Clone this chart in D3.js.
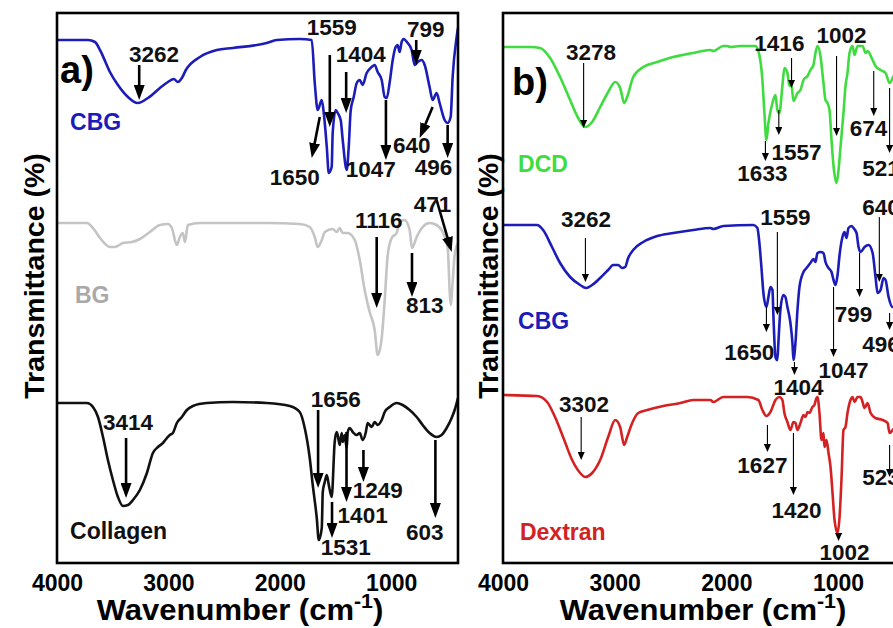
<!DOCTYPE html>
<html>
<head>
<meta charset="utf-8">
<script src="https://cdn.jsdelivr.net/npm/d3@7.9.0/dist/d3.min.js"></script>
<style>
  body { margin: 0; background: #fff; }
  text { font-family: "Liberation Sans", Arial, sans-serif; font-weight: bold; }
</style>
</head>
<body>
<div id="chart"></div>
<script>
// x ticks (cm-1)
const xTicks = [4000, 3000, 2000, 1000];

// spectra, [wavenumber, transmittance (offset, a.u.)]
const cbgA = [
  [4000,104.6],[3722,104.6],[3659,104.2],[3614,102.6],[3525,98.2],[3453,95.6],[3363,93.2],[3274,92.0],
  [3184,93.0],[3076,95.0],[3004,96.2],[2951,96.8],[2915,96.2],[2879,97.0],[2843,98.6],[2717,101.2],
  [2565,102.6],[2421,103.0],[2117,104.0],[2027,104.6],[1821,104.8],[1713,104.6],[1686,96.0],[1659,90.6],
  [1623,92.6],[1605,90.0],[1578,83.2],[1560,78.0],[1534,79.2],[1525,86.0],[1498,90.6],[1480,90.0],
  [1453,88.6],[1435,84.6],[1399,78.6],[1381,83.2],[1363,90.6],[1336,93.2],[1309,96.0],[1282,96.6],
  [1256,95.6],[1220,98.0],[1175,99.2],[1148,99.6],[1121,98.2],[1085,96.6],[1058,93.2],[1040,93.0],
  [1013,96.2],[986,100.6],[960,103.2],[942,103.6],[924,102.2],[906,104.2],[888,104.8],[852,104.0],
  [816,102.6],[789,99.6],[762,100.2],[726,100.6],[699,99.6],[655,95.2],[628,92.6],[592,94.0],
  [565,92.0],[520,88.6],[493,88.0],[466,89.2],[448,97.2],[412,105.2],[400,107.0]
];
const bgA = [
  [4000,68.0],[3731,68.0],[3677,67.0],[3614,65.0],[3525,63.2],[3480,63.2],[3408,64.0],[3327,64.2],
  [3256,64.8],[3166,66.2],[3076,67.6],[3004,67.8],[2969,67.0],[2924,63.6],[2897,65.2],[2870,66.0],
  [2852,64.2],[2825,67.6],[2717,68.0],[2421,68.0],[2117,68.0],[1821,67.8],[1731,67.2],[1686,65.2],
  [1659,63.2],[1623,64.6],[1596,66.2],[1525,66.8],[1489,66.2],[1462,67.0],[1435,66.0],[1390,66.0],
  [1327,64.6],[1282,60.6],[1238,54.6],[1193,50.2],[1148,46.6],[1121,41.6],[1085,45.0],[1058,52.6],
  [1031,61.6],[995,65.0],[951,66.0],[924,68.2],[879,68.6],[834,66.6],[813,63.0],[771,65.2],
  [717,67.2],[655,68.0],[592,67.6],[538,66.2],[493,63.2],[475,54.6],[466,51.6],[448,56.2],
  [430,61.6],[400,64.0]
];
const collagenA = [
  [4000,32.0],[3731,32.0],[3677,31.2],[3632,29.2],[3587,25.2],[3543,20.6],[3498,16.6],[3453,13.2],
  [3408,11.4],[3363,11.6],[3318,12.6],[3256,14.6],[3193,18.0],[3139,22.0],[3094,23.2],[3049,24.0],
  [3013,25.0],[2987,25.6],[2960,26.0],[2924,28.0],[2879,29.2],[2834,30.6],[2780,31.4],[2655,32.0],
  [2421,32.2],[2117,32.0],[1910,31.4],[1821,30.2],[1776,27.0],[1731,21.0],[1704,15.6],[1668,9.0],
  [1650,4.6],[1623,7.0],[1614,14.2],[1596,16.2],[1578,17.6],[1560,15.6],[1534,13.2],[1507,24.2],
  [1489,26.2],[1480,25.6],[1462,23.6],[1444,26.0],[1435,24.2],[1417,25.6],[1399,23.0],[1390,26.2],
  [1372,27.0],[1345,26.2],[1309,25.6],[1282,26.0],[1256,24.6],[1229,26.0],[1211,28.0],[1175,27.2],
  [1148,28.2],[1121,27.6],[1085,28.6],[1058,30.2],[1013,31.2],[951,32.0],[897,31.6],[834,30.6],
  [771,29.2],[717,27.6],[655,26.0],[592,25.2],[547,25.6],[502,27.0],[457,29.0],[430,30.6],[400,33.0]
];
const dcdB = [
  [4000,103.2],[3758,103.2],[3668,103.0],[3578,101.0],[3489,97.2],[3399,92.6],[3327,89.0],[3265,87.2],
  [3202,88.2],[3130,91.2],[3058,94.2],[2995,96.2],[2951,95.0],[2915,92.0],[2888,93.2],[2834,97.2],
  [2744,99.2],[2619,100.2],[2475,101.2],[2296,102.0],[2143,102.6],[2117,102.4],[2027,103.4],[1991,103.4],
  [1964,103.2],[1874,103.4],[1740,103.4],[1713,102.4],[1677,96.6],[1659,90.0],[1641,84.6],[1623,88.0],
  [1587,92.0],[1560,93.6],[1543,90.6],[1525,90.0],[1498,95.4],[1480,99.0],[1453,98.0],[1435,95.4],
  [1417,95.6],[1399,92.4],[1363,94.0],[1336,94.6],[1309,96.6],[1273,97.4],[1247,98.6],[1220,99.6],
  [1202,102.0],[1184,103.4],[1157,101.4],[1130,96.0],[1112,92.6],[1094,92.0],[1076,90.6],[1058,84.6],
  [1040,79.4],[1013,76.0],[995,78.6],[977,83.4],[951,90.0],[933,95.4],[915,98.0],[897,102.0],
  [870,103.4],[852,101.6],[825,103.4],[780,103.4],[753,102.0],[735,102.4],[690,100.6],[664,99.4],
  [619,98.6],[574,98.0],[538,96.0],[502,97.4],[466,98.6],[440,99.0],[400,100.2]
];
const cbgB = [
  [4000,67.6],[3695,67.6],[3641,66.6],[3561,63.2],[3489,60.0],[3399,57.2],[3309,55.6],[3256,55.0],
  [3202,55.6],[3130,57.0],[3058,58.6],[3013,59.6],[2969,59.6],[2933,59.0],[2906,59.2],[2879,61.0],
  [2834,62.6],[2744,64.2],[2619,65.4],[2475,66.0],[2296,66.6],[2143,67.0],[2117,66.8],[2027,67.4],
  [1758,67.6],[1722,67.0],[1704,64.0],[1686,59.2],[1668,54.0],[1641,51.2],[1623,53.2],[1605,55.2],
  [1587,54.6],[1578,49.2],[1560,41.2],[1543,40.6],[1534,44.0],[1516,50.6],[1489,53.6],[1471,53.2],
  [1453,51.2],[1426,48.0],[1408,44.0],[1399,40.6],[1381,44.0],[1363,50.6],[1345,55.2],[1309,58.2],
  [1282,59.0],[1247,60.0],[1220,60.8],[1202,60.2],[1184,62.0],[1157,62.2],[1130,62.0],[1112,60.2],
  [1085,59.0],[1058,58.2],[1040,56.6],[1022,55.6],[1004,57.6],[986,61.6],[960,65.2],[942,66.2],
  [924,65.0],[906,67.0],[879,67.4],[861,67.0],[834,66.0],[816,63.2],[798,62.2],[762,63.2],
  [726,63.6],[690,62.0],[664,57.2],[646,54.0],[619,54.6],[592,57.0],[574,56.6],[547,53.2],
  [511,51.2],[475,52.6],[440,58.6],[400,66.6]
];
const dextranB = [
  [4000,33.6],[3695,33.4],[3605,32.2],[3534,29.2],[3462,25.2],[3381,20.6],[3309,18.0],[3265,17.2],
  [3202,18.0],[3130,20.6],[3058,25.2],[2995,28.6],[2951,27.2],[2915,23.6],[2888,25.2],[2843,28.0],
  [2789,30.0],[2708,30.6],[2565,31.4],[2412,32.0],[2296,32.6],[2143,32.6],[2117,32.2],[2027,33.2],
  [1812,33.2],[1713,32.6],[1677,30.6],[1641,29.4],[1605,30.2],[1560,32.6],[1525,33.2],[1498,32.6],
  [1480,30.0],[1453,28.2],[1426,26.6],[1399,28.2],[1381,28.0],[1363,26.6],[1336,28.0],[1309,29.6],
  [1291,29.2],[1273,30.2],[1256,30.0],[1229,31.2],[1211,31.6],[1193,33.0],[1184,33.2],[1166,30.0],
  [1148,24.6],[1130,26.0],[1121,23.2],[1103,24.6],[1085,22.0],[1067,19.2],[1049,14.0],[1031,8.6],
  [1004,6.0],[986,9.2],[968,17.2],[951,26.6],[933,27.2],[915,30.0],[888,32.6],[870,33.2],
  [852,32.2],[825,33.2],[798,33.2],[780,32.2],[762,31.0],[735,32.0],[708,30.0],[664,29.0],
  [601,28.6],[556,28.0],[538,26.0],[511,26.6],[475,27.6],[440,28.6],[400,29.6]
];

// peak labels: [text, label wn, label value, arrow from wn, from value, to wn, to value]
const peaksA = [
  ['3262', 3130, 100.2, 3262, 99.6, 3262, 92.6],
  ['1559', 1534, 105.6, 1551, 101.6, 1551, 87.2],
  ['1404', 1273, 100.2, 1404, 98.2, 1404, 90.0],
  ['799', 690, 105.2, 775, 104.6, 775, 99.6],
  ['1650', 1865, 75.6, 1641, 89.2, 1713, 81.0],
  ['1047', 1184, 77.2, 1047, 92.6, 1047, 80.6],
  ['640', 816, 82.0, 628, 91.2, 744, 85.0],
  ['496', 619, 77.6, 493, 87.6, 493, 81.0],
  ['471', 628, 70.2, 592, 72.6, 457, 62.2],
  ['1116', 1112, 67.0, 1130, 65.2, 1130, 51.0],
  ['813', 699, 50.0, 813, 62.0, 813, 53.2],
  ['1656', 1498, 31.2, 1656, 30.6, 1656, 15.0],
  ['1249', 1121, 13.0, 1249, 22.6, 1249, 16.2],
  ['1401', 1256, 8.0, 1401, 26.2, 1401, 12.2],
  ['1531', 1408, 1.6, 1531, 12.2, 1531, 5.0],
  ['603', 699, 4.6, 603, 24.6, 603, 9.0],
  ['3414', 3363, 26.6, 3380, 25.0, 3380, 13.0]
];
const peaksB = [
  ['3278', 3211, 100.6, 3278, 100.0, 3278, 87.0],
  ['1416', 1525, 102.4, 1416, 101.0, 1416, 95.0],
  ['1002', 968, 104.0, 1013, 101.4, 1013, 85.4],
  ['674', 726, 85.4, 680, 98.4, 680, 89.4],
  ['521', 614, 77.4, 538, 95.0, 538, 82.0],
  ['1557', 1372, 80.6, 1530, 90.6, 1530, 85.6],
  ['1633', 1677, 76.4, 1650, 84.4, 1650, 80.4],
  ['3262', 3256, 67.2, 3262, 65.0, 3262, 56.2],
  ['1559', 1471, 67.6, 1543, 66.2, 1543, 49.6],
  ['640', 614, 69.6, 630, 69.2, 630, 56.2],
  ['1650', 1794, 40.6, 1641, 51.2, 1641, 46.2],
  ['1404', 1354, 33.6, 1390, 40.2, 1390, 37.6],
  ['1047', 950, 37.0, 1040, 55.2, 1040, 41.2],
  ['799', 861, 48.2, 807, 62.0, 807, 53.2],
  ['496', 614, 42.2, 538, 50.0, 538, 46.6],
  ['3302', 3274, 30.2, 3300, 29.2, 3300, 20.6],
  ['1627', 1677, 18.0, 1632, 27.6, 1632, 22.2],
  ['1420', 1372, 9.0, 1399, 26.0, 1399, 13.6],
  ['1002', 942, 0.6, 995, 6.0, 995, 4.4],
  ['523', 614, 15.6, 538, 23.6, 538, 17.2]
];

// sample names: [text, wn, value, colour]
const namesA = [['CBG', 3883, 86.6, '#1c1cb8'], ['BG', 3839, 52.0, '#a9a9a9'], ['Collagen', 3883, 4.8, '#111']];
const namesB = [['DCD', 3865, 78.2, '#3fdc3f'], ['CBG', 3865, 46.8, '#1c1cb8'], ['Dextran', 3848, 4.6, '#d42121']];

const width = 893, height = 628;
const frameTop = 13, frameBottom = 563;

const svg = d3.select('#chart').append('svg')
  .attr('width', width)
  .attr('height', height);

const defs = svg.append('defs');
defs.append('marker').attr('id', 'headA')
  .attr('markerUnits', 'userSpaceOnUse')
  .attr('markerWidth', 15).attr('markerHeight', 11)
  .attr('refX', 15).attr('refY', 5.5).attr('orient', 'auto')
  .append('path').attr('d', 'M0,0L15,5.5L0,11Z').attr('fill', '#000');
defs.append('marker').attr('id', 'headB')
  .attr('markerUnits', 'userSpaceOnUse')
  .attr('markerWidth', 8).attr('markerHeight', 7)
  .attr('refX', 8).attr('refY', 3.5).attr('orient', 'auto')
  .append('path').attr('d', 'M0,0L8,3.5L0,7Z').attr('fill', '#000');

const y = d3.scaleLinear().domain([0, 110]).range([frameBottom, frameTop]);

const panels = [
  { left: 57, right: 458, tag: 'a)', tagPos: [3973, 96.0],
    series: [[cbgA, '#1c1cb8'], [bgA, '#c4c4c4'], [collagenA, '#111']],
    peaks: peaksA, names: namesA, head: 'headA', arrowW: 2.6, shorten: 8,
    yTitleX: 44, xTitleX: 240 },
  { left: 503, right: 905, tag: 'b)', tagPos: [3919, 93.6],
    series: [[dcdB, '#3fdc3f'], [cbgB, '#1c1cb8'], [dextranB, '#d42121']],
    peaks: peaksB, names: namesB, head: 'headB', arrowW: 1.1, shorten: 4,
    yTitleX: 498, xTitleX: 703 }
];

panels.forEach(p => {
  const x = d3.scaleLinear().domain([4000, 400]).range([p.left, p.right]);
  const g = svg.append('g');

  const line = d3.line()
    .x(d => x(d[0]))
    .y(d => y(d[1]))
    .curve(d3.curveMonotoneX);

  p.series.forEach(([data, color]) => {
    g.append('path')
      .datum(data)
      .attr('fill', 'none')
      .attr('stroke', color)
      .attr('stroke-width', 2.6)
      .attr('stroke-linejoin', 'round')
      .attr('d', line);
  });

  // frame
  g.append('rect')
    .attr('x', p.left).attr('y', frameTop)
    .attr('width', p.right - p.left).attr('height', frameBottom - frameTop)
    .attr('fill', 'none').attr('stroke', '#000').attr('stroke-width', 2.6);

  // x axis labels
  const ax = g.append('g')
    .attr('transform', `translate(0,${frameBottom})`)
    .call(d3.axisBottom(x).tickValues(xTicks).tickSize(0).tickPadding(12).tickFormat(d3.format('d')));
  ax.select('.domain').remove();
  ax.selectAll('text')
    .attr('fill', '#000')
    .style('font-size', '23px')
    .style('font-family', '"Liberation Sans", Arial, sans-serif')
    .style('font-weight', 'bold');

  // arrows
  p.peaks.forEach(([t, tx, tv, x1, v1, x2, v2]) => {
    const ax1 = x(x1), ay1 = y(v1), ax2 = x(x2), ay2 = y(v2);
    const len = Math.hypot(ax2 - ax1, ay2 - ay1);
    const k = Math.max(0, (len - p.shorten) / len);
    g.append('line')
      .attr('x1', ax1).attr('y1', ay1)
      .attr('x2', ax1 + (ax2 - ax1) * k).attr('y2', ay1 + (ay2 - ay1) * k)
      .attr('stroke', '#000').attr('stroke-width', p.arrowW);
    g.append('line')
      .attr('x1', ax1 + (ax2 - ax1) * k).attr('y1', ay1 + (ay2 - ay1) * k)
      .attr('x2', ax2).attr('y2', ay2)
      .attr('stroke', 'none')
      .attr('marker-end', `url(#${p.head})`);
    g.append('text')
      .attr('x', x(tx)).attr('y', y(tv))
      .attr('text-anchor', 'middle')
      .attr('font-size', 22.5)
      .attr('fill', '#111')
      .text(t);
  });

  p.names.forEach(([t, wn, v, color]) => {
    g.append('text')
      .attr('x', x(wn)).attr('y', y(v))
      .attr('font-size', 23)
      .attr('fill', color)
      .text(t);
  });

  g.append('text')
    .attr('x', x(p.tagPos[0])).attr('y', y(p.tagPos[1]))
    .attr('font-size', 38)
    .attr('fill', '#000')
    .text(p.tag);

  // axis titles
  g.append('text')
    .attr('transform', `translate(${p.yTitleX},276) rotate(-90)`)
    .attr('text-anchor', 'middle')
    .attr('font-size', 28.5)
    .attr('fill', '#000')
    .text('Transmittance (%)');

  const xt = g.append('text')
    .attr('transform', `translate(${p.xTitleX},620) scale(1.07,1)`)
    .attr('text-anchor', 'middle')
    .attr('font-size', 29)
    .attr('fill', '#000');
  xt.append('tspan').text('Wavenumber (cm');
  xt.append('tspan').attr('dy', -12).attr('font-size', 20).text('-1');
  xt.append('tspan').attr('dy', 12).text(')');
});
</script>
</body>
</html>
